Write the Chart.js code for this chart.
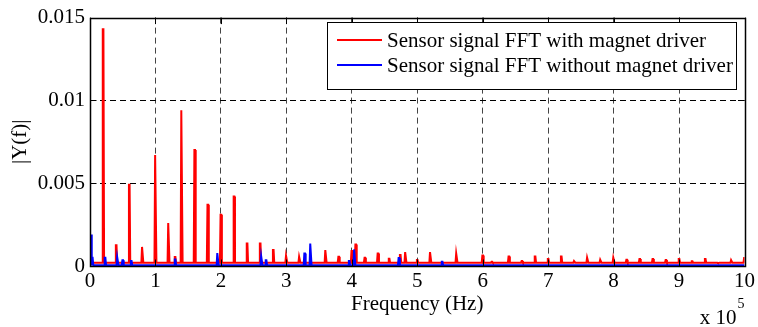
<!DOCTYPE html>
<html>
<head>
<meta charset="utf-8">
<script src="https://cdn.jsdelivr.net/npm/chart.js@4"></script>
<style>
  html, body { margin: 0; padding: 0; background: #fff; }
  canvas { display: block; }
</style>
</head>
<body>
<canvas id="fft" width="758" height="327"></canvas>
<script>
// Spectral peaks of the sensor signal (frequency in Hz, magnitude |Y(f)|)
const withDriverHz = [20000, 40000, 60000, 80000, 100000, 120000, 130000, 140000, 160000, 180000,
  200000, 220000, 240000, 260000, 280000, 300000, 320000, 360000, 380000, 400000,
  406000, 420000, 440000, 457000, 474000, 482000, 500000, 520000, 560000, 600000,
  614000, 640000, 660000, 680000, 700000, 720000, 740000, 760000, 780000, 800000,
  820000, 840000, 860000, 880000, 900000, 920000, 940000, 960000, 980000, 1000000];
const withDriverAmp = [0.0143, 0.00125, 0.0049, 0.00115, 0.0067, 0.0026, 0.00055, 0.0094, 0.0070, 0.0037,
  0.0031, 0.0042, 0.00136, 0.00136, 0.00096, 0.00062, 0.00056, 0.00096, 0.00056, 0.0009,
  0.0013, 0.0005, 0.00076, 0.00044, 0.00066, 0.00084, 0.00036, 0.00084, 0.00076, 0.00064,
  0.00026, 0.00058, 0.0003, 0.00058, 0.00043, 0.00058, 0.0003, 0.00051, 0.00038, 0.00051,
  0.00038, 0.00043, 0.00043, 0.00036, 0.00043, 0.00028, 0.00042, 0.00018, 0.00036, 0.00054];
const withDriverFloor = 0.0002;

const withoutDriverHz = [0, 1500, 3500, 23000, 42000, 50000, 63000, 130000, 195000, 262000, 269000,
  328000, 337000, 396000, 404000, 472000, 538000];
const withoutDriverAmp = [0.0019, 0.0019, 0.0005, 0.0005, 0.00055, 0.00035, 0.0003, 0.0004, 0.00078, 0.0006, 0.00035,
  0.00075, 0.00136, 0.0003, 0.001, 0.00048, 0.00026];
const withoutDriverFloor = 0.00005;

const xTickValues = [0, 100000, 200000, 300000, 400000, 500000, 600000, 700000, 800000, 900000, 1000000];
const xTickLabels = ['0', '1', '2', '3', '4', '5', '6', '7', '8', '9', '10'];
const yTickValues = [0, 0.005, 0.01, 0.015];
const yTickLabels = ['0', '0.005', '0.01', '0.015'];

const seriesNames = ['Sensor signal FFT with magnet driver', 'Sensor signal FFT without magnet driver'];

// Turn a list of peaks into a spectrum line resting on its noise floor;
// each peak is a narrow flat-topped bump a few bins wide
function spectrum(hz, amp, floor) {
  const edge = 1500, top = 500;
  const pts = [{x: 0, y: floor}, {x: 1000000, y: floor}];
  hz.forEach((f, i) => {
    pts.push({x: f - edge, y: floor});
    pts.push({x: f - top, y: amp[i]});
    pts.push({x: f + top, y: amp[i]});
    pts.push({x: f + edge, y: floor});
  });
  pts.sort((a, b) => a.x - b.x);
  return pts;
}

const SERIF = '"Liberation Serif", "Times New Roman", serif';
const FONT = {family: SERIF, size: 21};

// Box, inward tick marks, exponent note and legend
const axesDecor = {
  id: 'axesDecor',
  afterDatasetsDraw(chart) {
    const {ctx, chartArea: a, scales: {x, y}} = chart;
    const tl = 6.5;
    ctx.save();
    ctx.strokeStyle = '#000';
    ctx.lineWidth = 1;
    ctx.setLineDash([]);
    ctx.beginPath();
    xTickValues.forEach(v => {
      const px = Math.round(x.getPixelForValue(v)) + 0.5;
      ctx.moveTo(px, a.bottom); ctx.lineTo(px, a.bottom - tl);
      ctx.moveTo(px, a.top); ctx.lineTo(px, a.top + tl);
    });
    yTickValues.forEach(v => {
      const py = Math.round(y.getPixelForValue(v)) + 0.5;
      ctx.moveTo(a.left, py); ctx.lineTo(a.left + tl, py);
      ctx.moveTo(a.right, py); ctx.lineTo(a.right - tl, py);
    });
    ctx.stroke();
    ctx.lineWidth = 1.5;
    ctx.strokeRect(Math.round(a.left) + 0.5, Math.round(a.top) + 0.5,
      Math.round(a.right - a.left), Math.round(a.bottom - a.top));
    ctx.restore();
  },
  afterDraw(chart) {
    const {ctx, chartArea: a} = chart;
    ctx.save();
    // exponent of the frequency axis
    ctx.fillStyle = '#000';
    ctx.font = '21px ' + SERIF;
    ctx.textAlign = 'right';
    ctx.textBaseline = 'middle';
    ctx.fillText('x 10', a.right - 8, 318);
    ctx.font = '14px ' + SERIF;
    ctx.textAlign = 'left';
    ctx.fillText('5', a.right - 7, 304);

    // legend
    const bx = 327, by = 22, bw = 409, bh = 67;
    ctx.fillStyle = '#fff';
    ctx.fillRect(bx, by, bw, bh);
    ctx.strokeStyle = '#000';
    ctx.lineWidth = 1;
    ctx.strokeRect(bx + 0.5, by + 0.5, bw, bh);
    chart.data.datasets.forEach((ds, i) => {
      const ly = 40 + i * 25;
      ctx.strokeStyle = ds.borderColor;
      ctx.lineWidth = 2;
      ctx.beginPath();
      ctx.moveTo(337, ly); ctx.lineTo(382, ly);
      ctx.stroke();
      ctx.fillStyle = '#000';
      ctx.font = '21px ' + SERIF;
      ctx.textAlign = 'left';
      ctx.textBaseline = 'middle';
      ctx.fillText(ds.label, 387, ly + 1);
    });
    ctx.restore();
  }
};

new Chart(document.getElementById('fft'), {
  type: 'line',
  data: {
    datasets: [
      {
        label: seriesNames[0],
        data: spectrum(withDriverHz, withDriverAmp, withDriverFloor),
        borderColor: '#ff0000',
        borderWidth: 2,
        pointRadius: 0,
        tension: 0,
        order: 2
      },
      {
        label: seriesNames[1],
        data: spectrum(withoutDriverHz, withoutDriverAmp, withoutDriverFloor),
        borderColor: '#0000ff',
        borderWidth: 2,
        pointRadius: 0,
        tension: 0,
        order: 1
      }
    ]
  },
  options: {
    responsive: false,
    animation: false,
    devicePixelRatio: 1,
    layout: {padding: {top: 15, right: 12, left: 0, bottom: 0}},
    plugins: {legend: {display: false}, tooltip: {enabled: false}},
    scales: {
      x: {
        type: 'linear',
        min: 0,
        max: 1000000,
        afterBuildTicks: s => { s.ticks = xTickValues.map(v => ({value: v})); },
        afterFit: s => { s.height = 61; },
        ticks: {
          autoSkip: false,
          maxRotation: 0,
          padding: 3,
          color: '#000',
          font: FONT,
          callback: (v, i) => xTickLabels[i]
        },
        grid: {
          drawTicks: false,
          lineWidth: 1,
          color: c => (c.tick && (c.tick.value === 0 || c.tick.value === 1000000)) ? 'rgba(0,0,0,0)' : '#444'
        },
        border: {display: false, dash: [6, 4]},
        title: {display: true, text: 'Frequency (Hz)', color: '#000', font: FONT, padding: {top: 0, bottom: 10}}
      },
      y: {
        type: 'linear',
        min: 0,
        max: 0.015,
        afterBuildTicks: s => { s.ticks = yTickValues.map(v => ({value: v})); },
        afterFit: s => { s.width = 90; },
        ticks: {
          padding: 5,
          color: '#000',
          font: FONT,
          callback: (v, i) => yTickLabels[i]
        },
        grid: {
          drawTicks: false,
          lineWidth: 1,
          color: c => (c.tick && (c.tick.value === 0 || c.tick.value === 0.015)) ? 'rgba(0,0,0,0)' : '#000'
        },
        border: {display: false, dash: [6, 4]},
        title: {display: true, text: '|Y(f)|', color: '#000', font: FONT, padding: {top: 8, bottom: 0}}
      }
    }
  },
  plugins: [axesDecor]
});
</script>
</body>
</html>
